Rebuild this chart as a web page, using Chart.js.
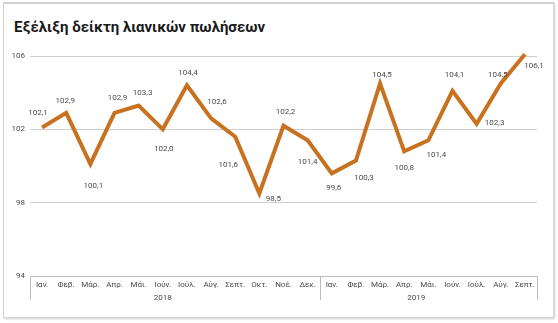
<!DOCTYPE html>
<html lang="el">
<head>
<meta charset="utf-8">
<title>Εξέλιξη δείκτη λιανικών πωλήσεων</title>
<script src="https://cdn.jsdelivr.net/npm/chart.js@4/dist/chart.umd.min.js"></script>
<style>
  html, body { margin: 0; padding: 0; background: #fff; }
  #wrap { position: relative; width: 558px; height: 323px; overflow: hidden; }
  #frame {
    position: absolute; left: 3px; top: 2px; width: 549px; height: 313px;
    border: 1px solid #d4d4d4; border-top: 2px solid #d0d0d0;
    box-shadow: 1px 1px 2px rgba(0, 0, 0, 0.2);
  }
  #title {
    position: absolute; left: 14px; top: 18px;
    font: bold 15px Roboto, "Open Sans", sans-serif; color: #1a1a1a;
  }
  #chart { position: absolute; left: 0; top: 0; }
</style>
</head>
<body>
<div id="wrap">
  <div id="frame"></div>
  <div id="title">Εξέλιξη δείκτη λιανικών πωλήσεων</div>
  <canvas id="chart" width="558" height="323"></canvas>
</div>
<script>
// months and years along the x axis
const months = ['Ιαν.', 'Φεβ.', 'Μάρ.', 'Απρ.', 'Μάι.', 'Ιούν.', 'Ιούλ.', 'Αύγ.', 'Σεπτ.', 'Οκτ.', 'Νοέ.', 'Δεκ.',
                'Ιαν.', 'Φεβ.', 'Μάρ.', 'Απρ.', 'Μάι.', 'Ιούν.', 'Ιούλ.', 'Αύγ.', 'Σεπτ.'];
const years = ['2018', '2019'];
const yearSizes = [12, 9];

// retail sales index
const salesIndex = [102.1, 102.9, 100.1, 102.9, 103.3, 102.0, 104.4, 102.6, 101.6, 98.5, 102.2, 101.4,
                    99.6, 100.3, 104.5, 100.8, 101.4, 104.1, 102.3, 104.5, 106.1];

// y axis
const yTicks = [94, 98, 102, 106];

// where each value label sits relative to its point (dx, dy)
const labelOffsets = [
  [-4, -15], [-1, -12], [3, 22], [3, -15], [4, -13], [1, 20], [1, -12], [6, -16], [-7, 28], [14, 5],
  [2, -14], [0, 22], [2, 15], [8, 17], [2, -9], [0, 17], [8, 15], [2, -16], [18, -1], [-3, -9], [9, 12]
];

const LINE = '#c8711f';
const TEXT = '#4a4a4a';
const FONT = 'Roboto, "Open Sans", sans-serif';

const fmt = v => v.toFixed(1).replace('.', ',');

// value labels next to the line
const valueLabels = {
  id: 'valueLabels',
  afterDatasetsDraw(chart) {
    const ctx = chart.ctx;
    const meta = chart.getDatasetMeta(0);
    ctx.save();
    ctx.font = '8px ' + FONT;
    ctx.fillStyle = TEXT;
    ctx.textAlign = 'center';
    ctx.textBaseline = 'middle';
    meta.data.forEach((pt, i) => {
      const [dx, dy] = labelOffsets[i];
      ctx.fillText(fmt(salesIndex[i]), pt.x + dx, pt.y + dy);
    });
    ctx.restore();
  }
};

// year groups under the month labels
const yearGroups = {
  id: 'yearGroups',
  afterDraw(chart) {
    const ctx = chart.ctx;
    const x = chart.scales.x;
    const top = x.top;
    const step = x.width / months.length;
    ctx.save();
    ctx.strokeStyle = '#bdbdbd';
    ctx.lineWidth = 1;
    let start = 0;
    const edges = [x.left];
    years.forEach((yr, g) => {
      const end = start + yearSizes[g];
      edges.push(x.left + end * step);
      ctx.font = '8px ' + FONT;
      ctx.fillStyle = TEXT;
      ctx.textAlign = 'center';
      ctx.textBaseline = 'middle';
      const mid = (start + end - 1) / 2 - 0.5;
      ctx.fillText(yr, x.getPixelForValue(mid), top + 22);
      start = end;
    });
    edges.forEach(px => {
      const xx = Math.round(px) + 0.5;
      ctx.beginPath();
      ctx.moveTo(xx, top);
      ctx.lineTo(xx, top + 24);
      ctx.stroke();
    });
    ctx.restore();
  }
};

new Chart(document.getElementById('chart'), {
  type: 'line',
  data: {
    labels: months,
    datasets: [{
      data: salesIndex,
      borderColor: LINE,
      borderWidth: 4,
      borderJoinStyle: 'miter',
      pointRadius: 0,
      tension: 0,
      fill: false,
      clip: false
    }]
  },
  options: {
    responsive: false,
    animation: false,
    layout: { padding: { left: 0, top: 56, right: 21, bottom: 0 } },
    plugins: {
      legend: { display: false },
      tooltip: { enabled: false },
      title: { display: false }
    },
    scales: {
      x: {
        offset: true,
        grid: { display: false, drawTicks: false },
        border: { display: true, color: '#bdbdbd', width: 1 },
        ticks: {
          padding: 4,
          maxRotation: 0,
          autoSkip: false,
          color: TEXT,
          font: { family: FONT, size: 8 }
        },
        afterFit(scale) { scale.height = 47; }
      },
      y: {
        min: yTicks[0],
        max: yTicks[yTicks.length - 1],
        afterBuildTicks(scale) { scale.ticks = yTicks.map(v => ({ value: v })); },
        grid: { color: '#cfcfcf', drawTicks: false },
        border: { display: false },
        ticks: {
          padding: 5,
          color: TEXT,
          font: { family: FONT, size: 8 }
        },
        afterFit(scale) { scale.width = 30; }
      }
    }
  },
  plugins: [valueLabels, yearGroups]
});
</script>
</body>
</html>
